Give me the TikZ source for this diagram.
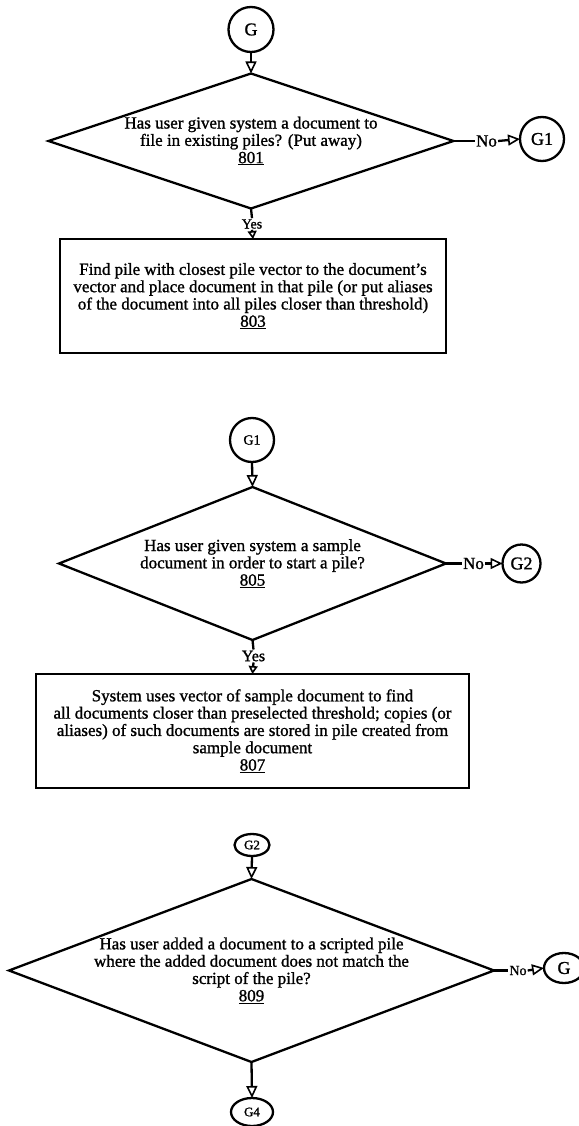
\documentclass[tikz,border=0pt]{standalone}
\usepackage{fontspec}
\setmainfont{Liberation Serif}[FakeBold=1.2]
\usetikzlibrary{shapes.geometric,arrows.meta}
\begin{document}
\begin{tikzpicture}[x=1pt,y=-1pt,
  line width=2.3pt,
  dec/.style={diamond, draw, inner sep=0pt, outer sep=0pt},
  proc/.style={rectangle, draw, inner sep=0pt, outer sep=0pt},
  conn/.style={circle, draw, inner sep=0pt, outer sep=0pt},
  oval/.style={ellipse, draw, inner sep=0pt, outer sep=0pt},
  txt/.style={align=center, inner sep=0pt, font=\fontsize{17}{17.3}\selectfont},
  lbl/.style={inner sep=0pt, font=\fontsize{17}{17}\selectfont},
  arr/.style={-{Triangle[open,length=12pt,width=11pt,line width=1.6pt]}},
  sarr/.style={-{Triangle[open,length=8pt,width=9pt,line width=1.6pt]}},
]
\useasboundingbox (0,0) rectangle (578,1126);

% ---- G / 801 / 803
\node[conn, minimum size=45pt, font=\fontsize{18}{18}\selectfont] (g) at (251,29.5) {G};
\node[dec, minimum width=405pt, minimum height=135pt] (d1) at (251,141) {};
\node[txt] (t1) at (d1.center) {Has user given system a document to\\file in existing piles? (Put away)\\\underline{801}};
\node[lbl] (no1) at (486.5,141) {No};
\node[conn, minimum size=44pt, font=\fontsize{18}{18}\selectfont] (g1r) at (542,139) {G1};
\node[lbl, font=\fontsize{14}{14}\selectfont] (y1) at (252,224) {Yes};
\node[proc, minimum width=386pt, minimum height=114pt] (b1) at (253,296) {};
\node[txt] (t3) at (b1.center) {Find pile with closest pile vector to the document's\\vector and place document in that pile (or put aliases\\of the document into all piles closer than threshold)\\\underline{803}};

\draw[arr] (g.south) -- (d1.north);
\draw (d1.east) -- (no1.west);
\draw[arr] (no1.east) -- (g1r.west);
\draw (d1.south) -- (y1.north);
\draw[sarr] (y1.south) -- (b1.north);

% ---- G1 / 805 / 807
\node[conn, minimum size=44pt, font=\fontsize{14}{14}\selectfont] (g1t) at (252,440) {G1};
\node[dec, minimum width=387pt, minimum height=153pt] (d2) at (252.5,563.5) {};
\node[txt] (t5) at (d2.center) {Has user given system a sample\\document in order to start a pile?\\\underline{805}};
\node[lbl] (no2) at (473.5,563.5) {No};
\node[conn, minimum size=38pt, font=\fontsize{18}{18}\selectfont] (g2r) at (521.5,563.5) {G2};
\node[lbl, font=\fontsize{16}{16}\selectfont] (y2) at (253.5,656) {Yes};
\node[proc, minimum width=433pt, minimum height=114pt] (b2) at (252.5,731) {};
\node[txt] (t7) at (b2.center) {System uses vector of sample document to find\\all documents closer than preselected threshold; copies (or\\aliases) of such documents are stored in pile created from\\sample document\\\underline{807}};

\draw[arr] (g1t.south) -- (d2.north);
\draw (d2.east) -- (no2.west);
\draw[arr] (no2.east) -- (g2r.west);
\draw (d2.south) -- (y2.north);
\draw[sarr] (y2.south) -- (b2.north);

% ---- G2 / 809
\node[oval, minimum width=35pt, minimum height=22pt, font=\fontsize{13}{13}\selectfont] (g2t) at (252,845) {G2};
\node[dec, minimum width=485pt, minimum height=183pt] (d3) at (251.5,970.5) {};
\node[txt] (t9) at (d3.center) {Has user added a document to a scripted pile\\where the added document does not match the\\script of the pile?\\\underline{809}};
\node[lbl, font=\fontsize{14}{14}\selectfont] (no3) at (518,970.5) {No};
\node[oval, minimum width=40pt, minimum height=30pt, font=\fontsize{18}{18}\selectfont] (gr) at (564,968) {G};
\node[oval, minimum width=42pt, minimum height=28pt, font=\fontsize{13}{13}\selectfont] (g4) at (252,1112) {G4};

\draw[arr] (g2t.south) -- (d3.north);
\draw (d3.east) -- (no3.west);
\draw[arr] (no3.east) -- (gr.west);
\draw[arr] (d3.south) -- (g4.north);
\end{tikzpicture}
\end{document}
